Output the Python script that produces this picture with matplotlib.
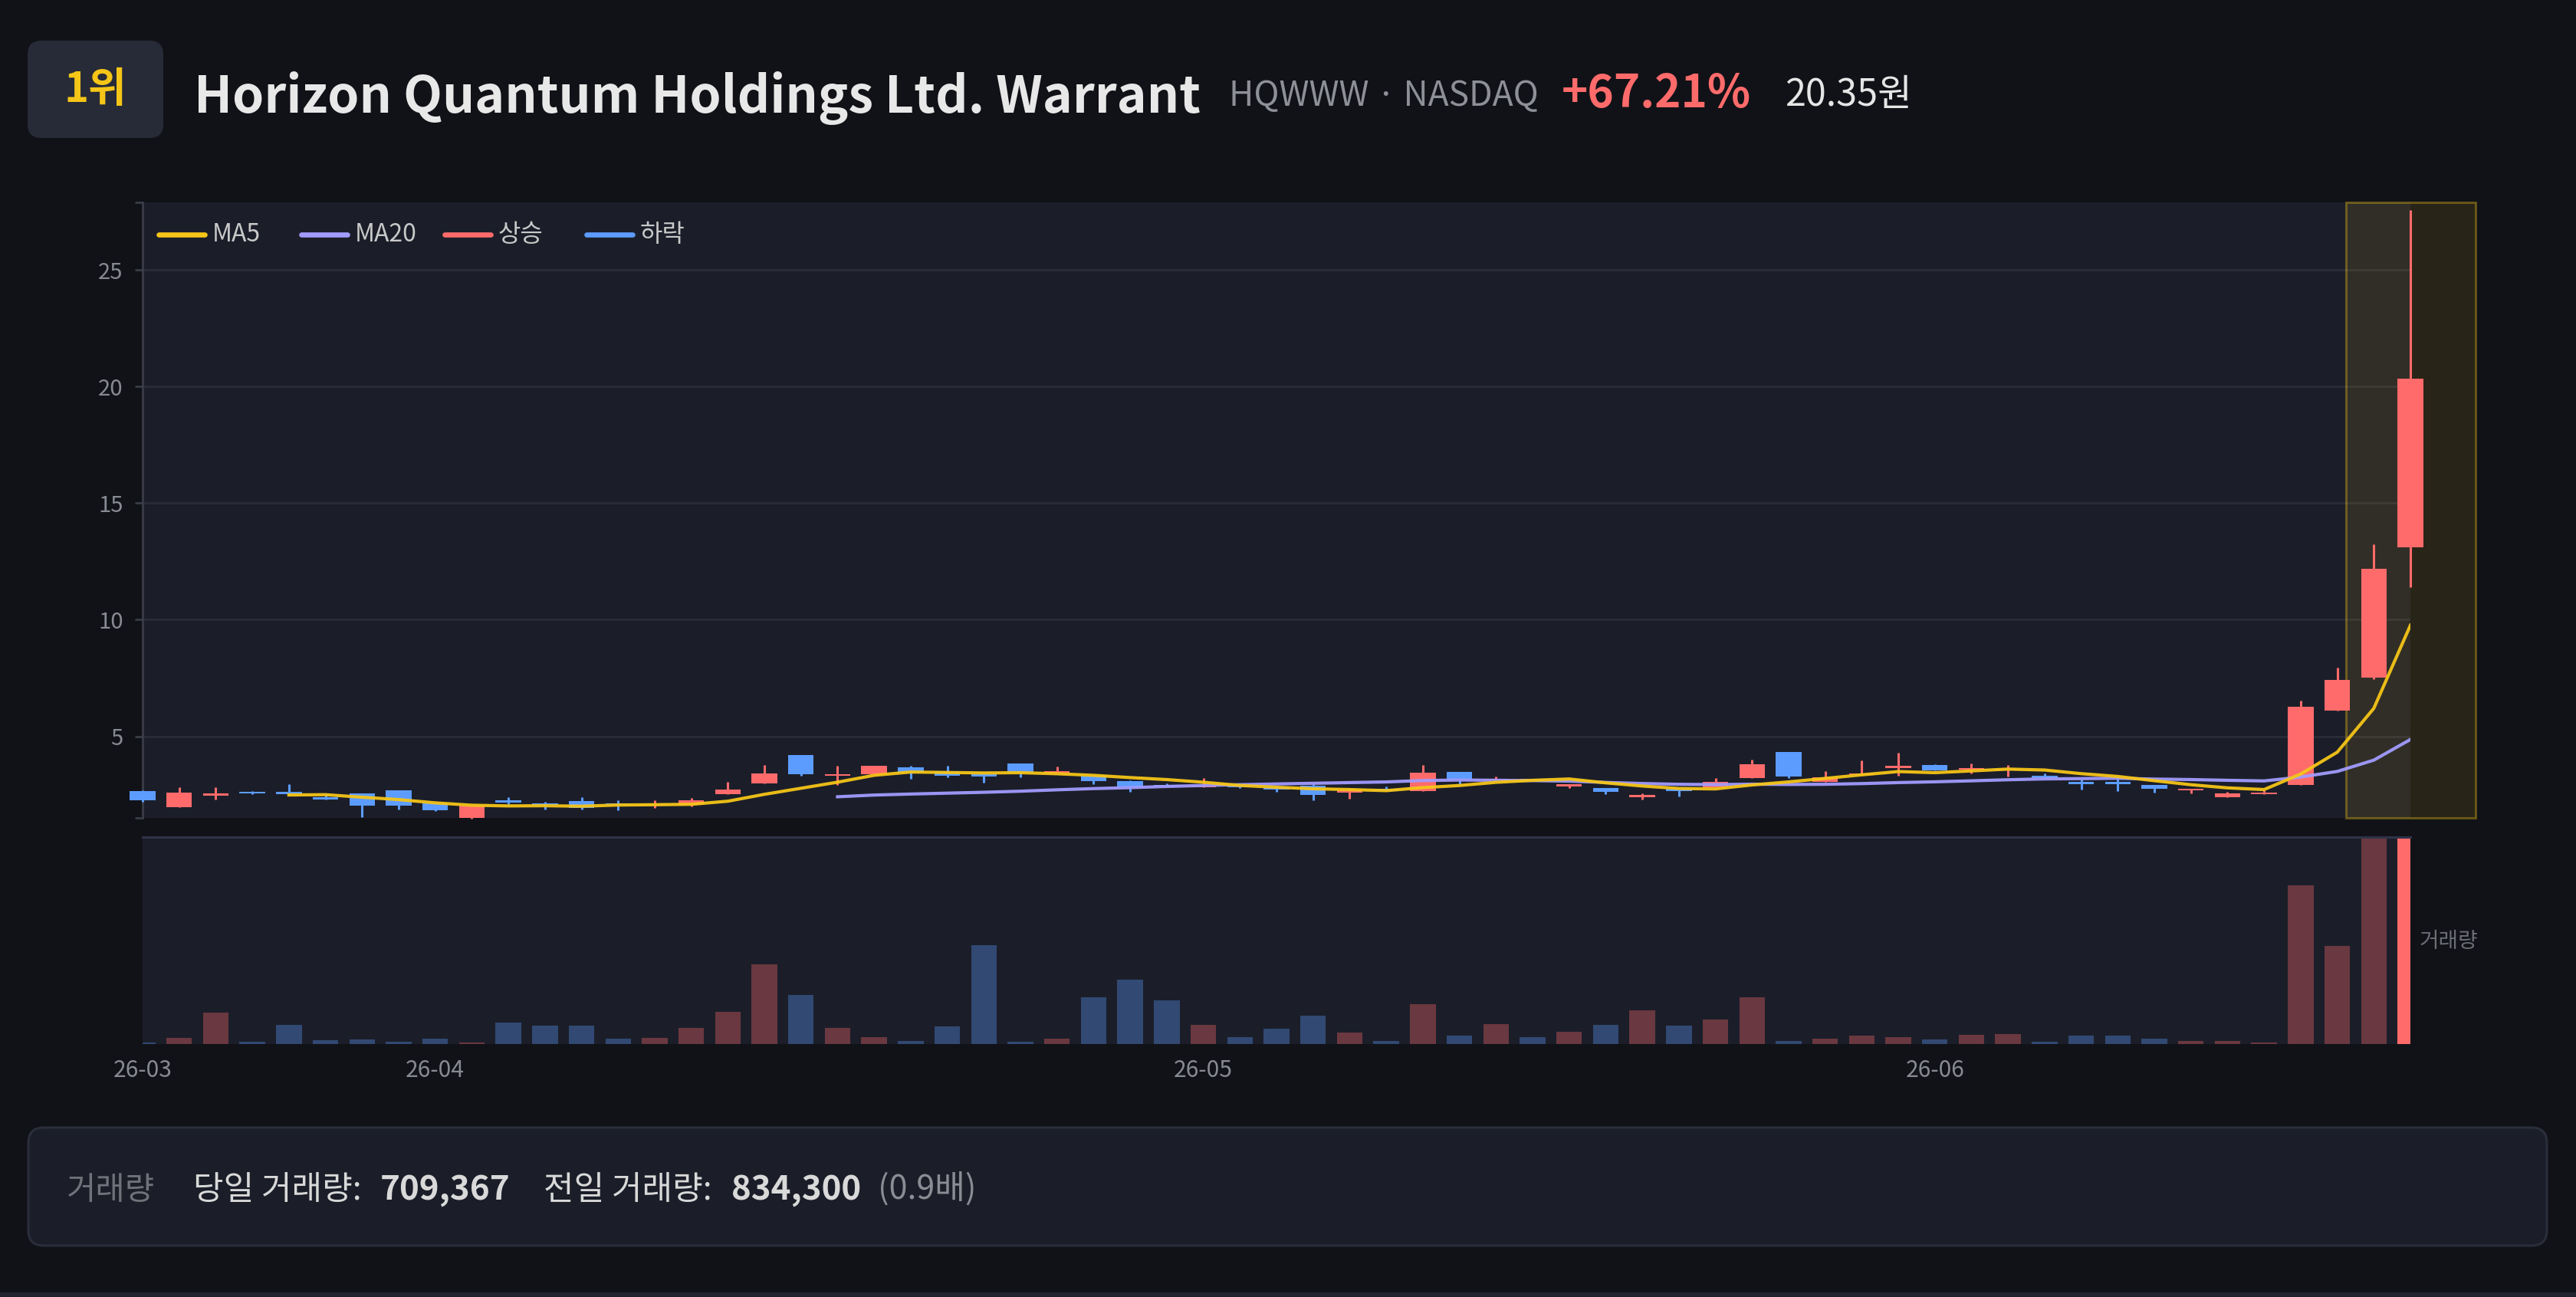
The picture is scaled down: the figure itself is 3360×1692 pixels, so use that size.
import numpy as np
import pandas as pd
import matplotlib
matplotlib.use('Agg')
import matplotlib.pyplot as plt
from matplotlib.patches import FancyBboxPatch, Rectangle
from matplotlib.transforms import blended_transform_factory

plt.rcParams['font.family'] = ['Noto Sans CJK KR', 'DejaVu Sans']

# daily OHLC
opens = [2.65, 1.96, 2.46, 2.63, 2.62, 2.40, 2.55, 2.68, 2.12, 1.50,
         2.27, 2.14, 2.21, 2.13, 2.05, 2.05, 2.51, 2.97, 4.18, 3.30,
         3.39, 3.67, 3.51, 3.37, 3.82, 3.42, 3.31, 3.09, 2.92, 2.83,
         2.85, 2.80, 2.89, 2.60, 2.74, 2.66, 3.46, 3.11, 3.15, 2.86,
         2.77, 2.40, 2.74, 2.83, 3.22, 4.32, 3.05, 3.34, 3.64, 3.78,
         3.57, 3.55, 3.31, 3.03, 3.03, 2.93, 2.69, 2.40, 2.51, 2.91,
         6.10, 7.50, 13.09]
highs = [2.67, 2.82, 2.82, 2.65, 2.96, 2.51, 2.56, 2.70, 2.12, 2.02,
         2.40, 2.18, 2.38, 2.27, 2.27, 2.37, 3.03, 3.77, 4.21, 3.72,
         3.72, 3.72, 3.75, 3.39, 3.83, 3.70, 3.32, 3.10, 2.99, 3.20,
         2.87, 2.85, 2.96, 2.77, 2.84, 3.76, 3.47, 3.27, 3.17, 2.94,
         2.77, 2.54, 2.74, 3.20, 4.01, 4.33, 3.49, 3.95, 4.29, 3.80,
         3.82, 3.77, 3.42, 3.16, 3.23, 2.93, 2.76, 2.63, 2.69, 6.52,
         7.96, 13.23, 27.58]
lows = [2.19, 1.96, 2.29, 2.51, 2.50, 2.28, 1.52, 1.87, 1.78, 1.48,
        2.09, 1.87, 1.87, 1.83, 1.94, 2.00, 2.51, 2.97, 3.30, 2.93,
        3.39, 3.19, 3.23, 3.02, 3.25, 3.42, 2.95, 2.61, 2.84, 2.83,
        2.78, 2.62, 2.24, 2.32, 2.64, 2.64, 2.96, 3.10, 3.10, 2.79,
        2.51, 2.28, 2.43, 2.83, 3.22, 3.20, 3.05, 3.34, 3.32, 3.53,
        3.42, 3.29, 3.20, 2.73, 2.65, 2.57, 2.54, 2.40, 2.51, 2.91,
        6.10, 7.45, 11.40]
closes = [2.24, 2.57, 2.54, 2.54, 2.53, 2.30, 2.03, 2.03, 1.84, 2.02,
          2.15, 2.07, 1.93, 2.09, 2.09, 2.24, 2.73, 3.41, 3.39, 3.39,
          3.72, 3.43, 3.31, 3.29, 3.45, 3.49, 3.09, 2.83, 2.86, 2.88,
          2.80, 2.71, 2.50, 2.69, 2.65, 3.45, 3.16, 3.18, 3.12, 2.94,
          2.62, 2.48, 2.65, 3.03, 3.79, 3.27, 3.23, 3.42, 3.73, 3.55,
          3.65, 3.62, 3.22, 2.95, 2.95, 2.74, 2.76, 2.54, 2.59, 6.27,
          7.43, 12.17, 20.35]
volumes = [4300, 22000, 108000, 8500, 66000, 13500, 15600, 7100, 19200, 6400,
           72400, 62400, 62400, 17700, 19900, 56000, 109200, 273100, 168100, 54600,
           24800, 10600, 59600, 338400, 8500, 19200, 161000, 221300, 149000, 66700,
           23400, 53200, 97900, 39700, 9900, 137600, 29100, 69500, 23400, 41100,
           66000, 115600, 63100, 83000, 161000, 11400, 19200, 29800, 24800, 14900,
           31200, 33300, 7100, 29100, 28400, 17700, 10600, 9900, 4300, 542700,
           336200, 834300, 709367]
tick_pos = [0, 8, 29, 49]
tick_labels = ['26-03', '26-04', '26-05', '26-06']

BG = '#111217'
PANEL = '#1b1e29'
GRID = '#2a2d39'
SPINE = '#3a3d47'
TICK = '#878a92'
UP = '#ff6b6b'
DOWN = '#5c9cff'
MA5C = '#f5c518'
MA20C = '#a29bfe'

W, H, DPI = 3360, 1692, 200
fig = plt.figure(figsize=(W / DPI, H / DPI), dpi=DPI, facecolor=BG)


def px_rect(x0, y0, x1, y1):
    return [x0 / W, 1 - y1 / H, (x1 - x0) / W, (y1 - y0) / H]


ax = fig.add_axes(px_rect(186, 264, 3144, 1067))
axv = fig.add_axes(px_rect(186, 1092, 3144, 1362))
ov = fig.add_axes([0, 0, 1, 1], zorder=10)
ov.set_xlim(0, W)
ov.set_ylim(H, 0)
ov.axis('off')

o = np.array(opens)
h = np.array(highs)
l = np.array(lows)
c = np.array(closes)
v = np.array(volumes)
n = len(c)
x = np.arange(n)
up = c >= o
cols = np.where(up, UP, DOWN)

# price panel
ax.set_facecolor(PANEL)
ax.set_xlim(0, n - 1)
ax.set_ylim(1.5, 27.9)
ax.set_yticks([5, 10, 15, 20, 25])
ax.set_yticks([1.5, 27.9], minor=True)
ax.set_xticks([])
ax.tick_params(axis='y', which='both', direction='out', length=3.6, width=1,
               color=SPINE, labelsize=10.5, labelcolor=TICK, pad=5.5)
for s in ['top', 'right', 'bottom']:
    ax.spines[s].set_visible(False)
ax.spines['left'].set_color(SPINE)
ax.spines['left'].set_linewidth(1)
ax.grid(axis='y', color=GRID, lw=1)
ax.set_axisbelow(True)

trans = blended_transform_factory(ax.transData, ax.transAxes)
ax.add_patch(Rectangle((60.23, 0), 3.56, 1, transform=trans, clip_on=False,
                       facecolor=(0.96, 0.77, 0.09, 0.10),
                       edgecolor=(0.96, 0.77, 0.09, 0.35), lw=1.1, zorder=1.5))

ax.vlines(x, l, h, colors=cols, lw=1.1, zorder=3, clip_on=False)
body = np.maximum(np.abs(c - o), 0.05)
ax.bar(x, body, bottom=np.minimum(o, c), width=0.7, color=cols, zorder=3.1,
       clip_on=False)

ma5 = pd.Series(c).rolling(5).mean()
ma20 = pd.Series(c).rolling(20).mean()
ax.plot(x, ma20, color=MA20C, lw=1.5, alpha=0.95, zorder=4)
ax.plot(x, ma5, color=MA5C, lw=1.5, alpha=0.95, zorder=4.1)

# volume panel
axv.set_facecolor(PANEL)
axv.set_xlim(0, n - 1)
axv.set_ylim(0, v[-1])
vcols = [matplotlib.colors.to_rgba(UP if u else DOWN, 0.35) for u in up]
vcols[-1] = matplotlib.colors.to_rgba(UP, 1.0)
axv.bar(x, v, width=0.7, color=vcols)
for s in ['left', 'right', 'bottom']:
    axv.spines[s].set_visible(False)
axv.spines['top'].set_color('#2f3347')
axv.spines['top'].set_linewidth(1.1)
axv.set_yticks([])
axv.set_xticks(tick_pos, tick_labels)
axv.tick_params(axis='x', length=0, labelsize=10.8, labelcolor=TICK, pad=7)
ov.text(3156, 1228, '거래량', fontsize=10, color='#6b6e75', va='center')

# legend
legend_items = [('MA5', MA5C, 207), ('MA20', MA20C, 393), ('상승', UP, 580), ('하락', DOWN, 765)]
for name, col, lx in legend_items:
    ov.plot([lx, lx + 60], [306, 306], color=col, lw=2.4, solid_capstyle='round')
    ov.text(lx + 70, 306, name, fontsize=11.5, color='#c9c9c9', va='center')

# header
ov.add_patch(FancyBboxPatch((36, 53), 177, 127, boxstyle='round,pad=0,rounding_size=18',
                            fc='#272b37', ec='none'))
ov.text(124.5, 118, '1위', ha='center', va='center', fontsize=19.5,
        weight='bold', color=MA5C)
ov.text(253, 147, 'Horizon Quantum Holdings Ltd. Warrant', fontsize=23.8,
        weight='bold', color='#e8e8e8', va='baseline')
ov.text(1603, 138, 'HQWWW · NASDAQ', fontsize=16.0, color='#8d9096', va='baseline')
pct = (c[-1] / c[-2] - 1) * 100
ov.text(2037, 140, f'+{pct:.2f}%', fontsize=21, weight='bold', color=UP, va='baseline')
ov.text(2328, 138, f'{c[-1]:.2f}원', fontsize=17.5, color='#e6e6e6', va='baseline')

# footer
ov.add_patch(FancyBboxPatch((37, 1471), 3285, 154, boxstyle='round,pad=0,rounding_size=20',
                            fc=PANEL, ec='#2a2e3b', lw=1.1))
fy = 1565
ov.text(87, fy, '거래량', fontsize=15, color='#6f7279', va='baseline')
ov.text(252, fy, '당일 거래량:', fontsize=15.5, color='#d9d9d9', va='baseline')
ov.text(496, fy, f'{v[-1]:,}', fontsize=15.8, weight='bold', color='#d9d9d9', va='baseline')
ov.text(709, fy, '전일 거래량:', fontsize=15.5, color='#d9d9d9', va='baseline')
ov.text(954, fy, f'{v[-2]:,}', fontsize=15.8, weight='bold', color='#d9d9d9', va='baseline')
ov.text(1145, fy, f'({v[-1] / v[-2]:.1f}배)', fontsize=15.5, color='#8a8d93', va='baseline')
ov.plot([0, W], [1689, 1689], color='#22252f', lw=2)

fig.savefig('out.png', dpi=DPI, facecolor=BG)
